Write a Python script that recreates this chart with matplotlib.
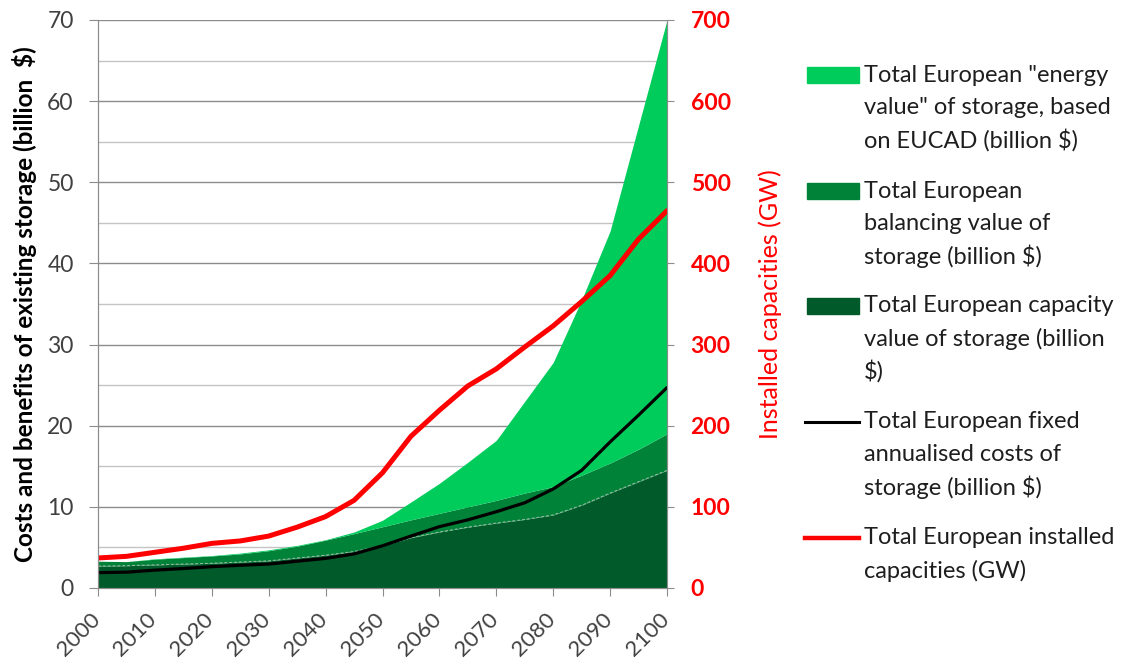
import numpy as np
import matplotlib
matplotlib.use("Agg")
import matplotlib.pyplot as plt
import matplotlib.transforms as mtransforms
from matplotlib.patches import Rectangle
from matplotlib.lines import Line2D

plt.rcParams['font.family'] = ['Lato', 'DejaVu Sans']

# data (5-year steps)
years = list(range(2000, 2101, 5))
capacity_value = [2.7, 2.75, 2.85, 2.95, 3.05, 3.2, 3.35, 3.7, 4.05, 4.5, 5.2,
                  6.2, 6.9, 7.5, 8.0, 8.45, 9.0, 10.2, 11.7, 13.1, 14.5]
balancing_value = [0.6, 0.5, 0.7, 0.8, 0.9, 1.0, 1.25, 1.45, 1.85, 2.2, 2.35,
                   2.2, 2.3, 2.5, 2.8, 3.25, 3.5, 3.7, 3.7, 4.0, 4.5]
energy_value = [0.0, 0.0, 0.05, 0.05, 0.05, 0.1, 0.1, 0.1, 0.05, 0.2, 0.8,
                2.2, 3.7, 5.5, 7.4, 11.3, 15.3, 21.6, 28.6, 39.9, 51.0]
fixed_costs = [1.9, 1.95, 2.2, 2.4, 2.63, 2.8, 2.95, 3.3, 3.65, 4.2, 5.2,
               6.4, 7.56, 8.4, 9.4, 10.5, 12.2, 14.5, 18.0, 21.3, 24.7]
installed_gw = [37, 39, 44, 49, 55, 58, 64, 75, 88, 108, 142,
                187, 219, 249, 270, 297, 323, 353, 385, 430, 465]

legend_labels = [
    ['Total European "energy', 'value" of storage, based', 'on EUCAD (billion $)'],
    ['Total European', 'balancing value of', 'storage (billion $)'],
    ['Total European capacity', 'value of storage (billion', '$)'],
    ['Total European fixed', 'annualised costs of', 'storage (billion $)'],
    ['Total European installed', 'capacities (GW)'],
]

c_light = '#00cc5c'
c_mid = '#008238'
c_dark = '#005a2a'
c_red = '#ff0000'
grey_txt = '#404040'
spine_c = '#8c8c8c'

W, H = 1131, 666
fig = plt.figure(figsize=(W / 100, H / 100), dpi=100)
ax = fig.add_axes([98 / W, 1 - 588 / H, 569 / W, 568 / H])

yrs = np.array(years)
cap = np.array(capacity_value)
bal = cap + np.array(balancing_value)
tot = bal + np.array(energy_value)

ax.fill_between(yrs, 0, cap, color=c_dark, lw=0)
ax.fill_between(yrs, cap, bal, color=c_mid, lw=0)
ax.fill_between(yrs, bal, tot, color=c_light, lw=0)
ax.plot(yrs, cap, color='#9fbfa8', lw=0.7, ls=(0, (3, 2)))
ax.plot(yrs, fixed_costs, color='black', lw=2.3, solid_capstyle='round')

ax.set_xlim(2000, 2100)
ax.set_ylim(0, 70)
ax.set_xticks(range(2000, 2101, 10))
ax.set_yticks(range(0, 71, 10))
ax.set_yticks(range(5, 70, 10), minor=True)
ax.set_axisbelow(True)
ax.grid(axis='y', which='major', color=spine_c, lw=1)
ax.grid(axis='y', which='minor', color='#c4c4c4', lw=1)
ax.tick_params(axis='y', which='minor', length=0)
ax.tick_params(axis='y', which='major', length=6.5, color=spine_c,
               labelsize=16.5, labelcolor=grey_txt, pad=11)
ax.tick_params(axis='x', length=6, color=spine_c, labelsize=16,
               labelcolor=grey_txt, pad=9)
shift = mtransforms.ScaledTranslation(-6 / 72, 0, fig.dpi_scale_trans)
for lab in ax.get_xticklabels():
    lab.set_rotation(45)
    lab.set_ha('right')
    lab.set_rotation_mode('anchor')
    lab.set_transform(lab.get_transform() + shift)
ax.spines['top'].set_visible(False)
for s in ['left', 'bottom', 'right']:
    ax.spines[s].set_color(spine_c)
ax.set_ylabel('Costs and benefits of existing storage (billion  $)',
              fontsize=17.5, fontweight='bold', color='black', labelpad=7)

ax2 = ax.twinx()
ax2.plot(yrs, installed_gw, color=c_red, lw=3.6, solid_capstyle='round')
ax2.set_ylim(0, 700)
ax2.set_yticks(range(0, 701, 100))
ax2.tick_params(axis='y', length=5, color=spine_c, labelsize=16.5,
                labelcolor=c_red, pad=12)
for lab in ax2.get_yticklabels():
    lab.set_fontweight('bold')
ax2.spines['top'].set_visible(False)
for s in ['left', 'bottom', 'right']:
    ax2.spines[s].set_color(spine_c)
ax2.set_ylabel('Installed capacities (GW)', fontsize=18, color=c_red,
               labelpad=20)

# legend drawn by hand so the keys line up with the first text line
first_line_y = [75, 191, 306, 422, 538]
handles = [('patch', c_light), ('patch', c_mid), ('patch', c_dark),
           ('line', 'black'), ('line', c_red)]
for (kind, col), y0, lines in zip(handles, first_line_y, legend_labels):
    if kind == 'patch':
        fig.patches.append(Rectangle((807 / W, 1 - (y0 + 8) / H), 52 / W, 16 / H,
                                     transform=fig.transFigure, color=col))
    else:
        fig.lines.append(Line2D([805 / W, 859 / W], [1 - y0 / H] * 2,
                                transform=fig.transFigure, color=col,
                                lw=2.2 if col == 'black' else 3.2))
    for i, txt in enumerate(lines):
        fig.text(864 / W, 1 - (y0 + i * 32.5) / H, txt, fontsize=17,
                 color='#1e1e1e', va='center', ha='left')

fig.savefig('out.png', dpi=100)
